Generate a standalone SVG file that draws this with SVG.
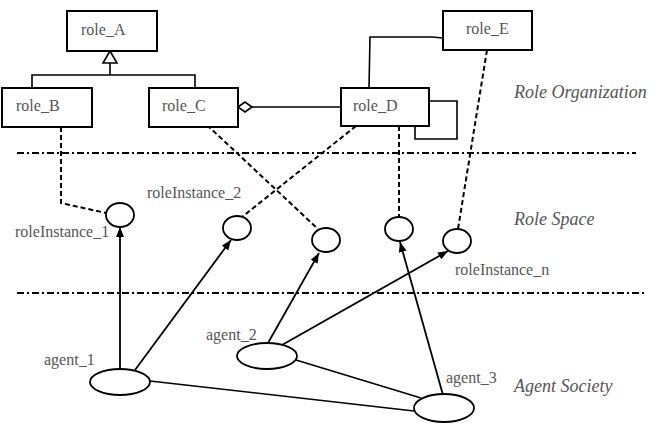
<svg xmlns="http://www.w3.org/2000/svg" width="656" height="433" viewBox="0 0 656 433">
<defs>
<style>
.box{fill:#fff;stroke:#000;stroke-width:2}
.ln{fill:none;stroke:#000;stroke-width:1.6}
.dash{fill:none;stroke:#000;stroke-width:2;stroke-dasharray:5 3}
.dd{fill:none;stroke:#000;stroke-width:2;stroke-dasharray:7 3 2 3}
.arr{fill:none;stroke:#000;stroke-width:1.8;marker-end:url(#ah)}
.inst{fill:#fff;stroke:#000;stroke-width:1.8}
.t{font-family:"Liberation Serif","Times New Roman",serif;font-size:16px;fill:#555}
.it{font-family:"Liberation Serif","Times New Roman",serif;font-size:18px;font-style:italic;fill:#555}
</style>
<marker id="ah" viewBox="0 0 10 8" refX="10" refY="4" markerWidth="10" markerHeight="8" markerUnits="userSpaceOnUse" orient="auto">
<path d="M0,0 L10,4 L0,8 z" fill="#000"/>
</marker>
</defs>
<rect width="656" height="433" fill="#fff"/>

<g id="separators">
<line class="dd" x1="17" y1="153" x2="636" y2="153"/>
<line class="dd" x1="17" y1="293" x2="647" y2="293"/>
</g>

<g id="connectors">
<!-- generalization -->
<polyline class="ln" points="32,88 32,75 195,75 195,88"/>
<line class="ln" x1="110" y1="75" x2="110" y2="63"/>
<polygon points="110,51 103,63 117,63" fill="#fff" stroke="#000" stroke-width="1.6"/>
<!-- aggregation C-D -->
<line class="ln" x1="252" y1="107" x2="341" y2="107"/>
<polygon points="238,107 245,102 252,107 245,112" fill="#fff" stroke="#000" stroke-width="1.6"/>
<!-- D-E -->
<polyline class="ln" points="369,88 370,37 432,37 443,38"/>
<!-- self loop D -->
<polyline class="ln" points="429,101 457,101 457,139 415,139 415,126"/>
<!-- dashed role to instance -->
<polyline class="dash" points="61,127 61,203 106,213"/>
<line class="dash" x1="207" y1="125" x2="318" y2="229"/>
<line class="dash" x1="356" y1="126" x2="242" y2="217"/>
<line class="dash" x1="399" y1="126" x2="399" y2="217"/>
<line class="dash" x1="487" y1="50" x2="458" y2="229"/>
<!-- agent arrows -->
<line class="arr" x1="120" y1="369" x2="120" y2="227"/>
<line class="arr" x1="135" y1="370" x2="231" y2="240"/>
<line class="arr" x1="268" y1="343" x2="319" y2="253"/>
<line class="arr" x1="282" y1="345" x2="448" y2="251"/>
<line class="arr" x1="443" y1="395" x2="400" y2="242"/>
<!-- agent links -->
<line class="ln" x1="296" y1="360" x2="421" y2="398"/>
<line class="ln" x1="150" y1="381" x2="414" y2="411"/>
</g>

<g id="role_A"><rect class="box" x="67" y="11" width="90" height="40"/><text class="t" x="81" y="35">role_A</text></g>
<g id="role_B"><rect class="box" x="2" y="88" width="90" height="39"/><text class="t" x="16" y="111">role_B</text></g>
<g id="role_C"><rect class="box" x="149" y="88" width="89" height="39"/><text class="t" x="162" y="111">role_C</text></g>
<g id="role_D"><rect class="box" x="341" y="88" width="88" height="38"/><text class="t" x="353" y="111">role_D</text></g>
<g id="role_E"><rect class="box" x="443" y="11" width="89" height="39"/><text class="t" x="466" y="34">role_E</text></g>

<g id="roleInstance_1"><ellipse class="inst" cx="120" cy="215" rx="14" ry="12"/><text class="t" x="15" y="237">roleInstance_1</text></g>
<g id="roleInstance_2"><ellipse class="inst" cx="237" cy="228" rx="14" ry="12"/><text class="t" x="147" y="198">roleInstance_2</text></g>
<g id="roleInstance_3"><ellipse class="inst" cx="326" cy="240" rx="14" ry="12"/></g>
<g id="roleInstance_4"><ellipse class="inst" cx="399" cy="229" rx="14" ry="12"/></g>
<g id="roleInstance_n"><ellipse class="inst" cx="457" cy="241" rx="14" ry="12"/><text class="t" x="455" y="275">roleInstance_n</text></g>

<g id="agent_1"><ellipse class="inst" cx="120" cy="382" rx="30" ry="13"/><text class="t" x="44" y="365">agent_1</text></g>
<g id="agent_2"><ellipse class="inst" cx="267" cy="356" rx="30" ry="13"/><text class="t" x="206" y="340">agent_2</text></g>
<g id="agent_3"><ellipse class="inst" cx="444" cy="408" rx="30" ry="14"/><text class="t" x="446" y="383">agent_3</text></g>

<g id="labels">
<text class="it" x="514" y="98">Role Organization</text>
<text class="it" x="514" y="225">Role Space</text>
<text class="it" x="514" y="392">Agent Society</text>
</g>
</svg>
